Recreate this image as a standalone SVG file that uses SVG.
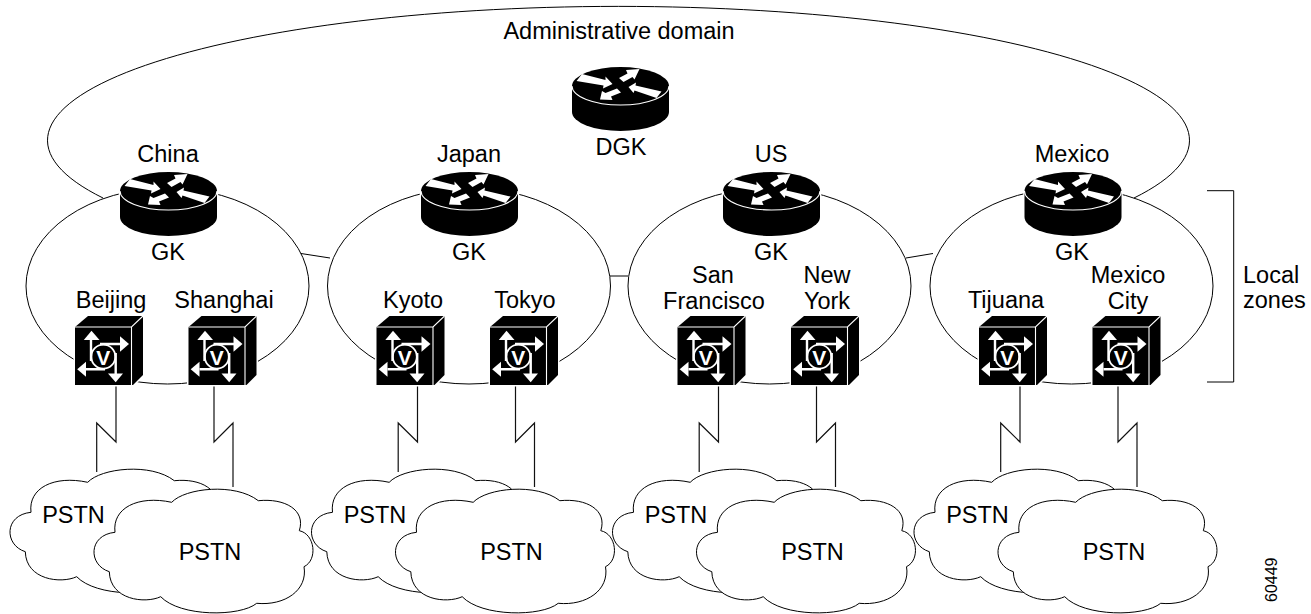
<svg xmlns="http://www.w3.org/2000/svg" width="1311" height="614" viewBox="0 0 1311 614">
<style>
text{font-family:"Liberation Sans",Arial,sans-serif;font-size:23.5px;fill:#000;text-anchor:middle}
.ln{fill:none;stroke:#000;stroke-width:1}
.ser{fill:none;stroke:#111;stroke-width:1.2;stroke-linejoin:miter}
.cl{fill:#fff;stroke:#000;stroke-width:1}
.w{fill:#fff;stroke:none}
.ws{fill:none;stroke:#fff;stroke-width:2.4}
.thin{fill:none;stroke:#fff;stroke-width:1.1}
text.v{fill:#fff;font-weight:bold;font-size:21px}
text.id{font-size:16px}
text.l{text-anchor:start}
</style>
<defs>
<g id="router">
<path d="M-48.5 0A48.5 19 0 0 1 48.5 0V26A48.5 19 0 0 1 -48.5 26Z" fill="#000" stroke="#fff" stroke-width="2.5" paint-order="stroke"/>
<path d="M-48.5 0A48.5 19 0 0 0 48.5 0" class="thin"/>
<polygon class="w" points="-38.5,-12 -15,-6 -15,-9.500 -8,-2 -17.500,2.500 -17,-0.500 -44,-5"/>
<polygon class="w" points="-1.500,-8 7,-12.500 5.500,-16 19,-17 14,-6.500 12,-9 3,-4"/>
<polygon class="w" points="8,1 15.500,-3.500 15,-0.500 41,5.500 36,12 14,4.500 13,7"/>
<polygon class="w" points="-20.500,13.500 -18.500,5 -15,7 -3.500,2.500 0.500,6.500 -9.500,10.500 -8,14"/>
</g>
<g id="switch">
<polygon points="0,0 13,-11 68,-11 68,48 58,58 0,58" fill="#000" stroke="#fff" stroke-width="3" paint-order="stroke"/>
<path d="M0 0H56.5L68 -11M56.5 0V58" class="thin"/>
<circle cx="28.3" cy="29.7" r="12" class="ws" style="stroke-width:1.8"/>
<path d="M16 13V34M25 17H46M11 42.3H30M40.7 26V47" class="ws"/>
<polygon class="w" points="16.5,3.700 8.800,13 24.500,13"/>
<polygon class="w" points="54,17 45,9.200 45,24.800"/>
<polygon class="w" points="2.200,42.300 11,34.800 11,49.800"/>
<polygon class="w" points="40.700,55.200 33,46.500 48,46.500"/>
<text class="v" x="28.300" y="37.500">V</text>
</g>
<path id="cloud" class="cl" d="M171.700 502.300C185 488 235 482.500 258.300 500.700C285 498 306 510 299.300 530.700C315 534 318 560 304 566.700C308 590 285 606 256.700 603.300C240 617 180 617 160.700 596.700C145 604 110 600 109.300 571.700C88 565 88 535 115 532.300C112 508 138 495 171.700 502.300Z"/>
<path id="serial" class="ser" d="M116 385V442L96.700 423V472M214 385V442L233 423V487"/>
</defs>

<g id="connectors">
<path id="domain-boundary" class="ln" d="M103 198A571 134 0 1 1 1134 198"/>
<path class="ln" d="M301 253.500L330 258M610 276H628M906 258L933 253.500"/>
<path class="ln" d="M1207 190.700H1233.700V382H1207"/>
<use href="#serial"/>
<use href="#serial" x="301.500"/>
<use href="#serial" x="602.500"/>
<use href="#serial" x="904"/>
</g>

<g id="zone-china"><ellipse class="ln" cx="167.500" cy="286" rx="141.500" ry="98"/></g>
<g id="zone-japan"><ellipse class="ln" cx="469" cy="286" rx="141.500" ry="98"/></g>
<g id="zone-us"><ellipse class="ln" cx="769.500" cy="286" rx="141.500" ry="98"/></g>
<g id="zone-mexico"><ellipse class="ln" cx="1071.500" cy="286" rx="141.500" ry="98"/></g>

<g id="title"><text x="619" y="39">Administrative domain</text></g>
<g id="dgk"><use href="#router" x="620.500" y="86"/><text x="621" y="155">DGK</text></g>

<g id="gk-china"><text x="168" y="162">China</text><use href="#router" x="168.500" y="191"/><text x="168" y="260">GK</text></g>
<g id="gk-japan"><text x="469" y="162">Japan</text><use href="#router" x="469.500" y="191"/><text x="469" y="260">GK</text></g>
<g id="gk-us"><text x="771" y="162">US</text><use href="#router" x="771.500" y="191"/><text x="771" y="260">GK</text></g>
<g id="gk-mexico"><text x="1072" y="162">Mexico</text><use href="#router" x="1073" y="191"/><text x="1072" y="260">GK</text></g>

<g id="gw-beijing"><text x="111" y="308">Beijing</text><use href="#switch" x="75" y="327"/></g>
<g id="gw-shanghai"><text x="224" y="308">Shanghai</text><use href="#switch" x="188.500" y="327"/></g>
<g id="gw-kyoto"><text x="413" y="308">Kyoto</text><use href="#switch" x="376.500" y="327"/></g>
<g id="gw-tokyo"><text x="525" y="308">Tokyo</text><use href="#switch" x="490" y="327"/></g>
<g id="gw-san-francisco"><text x="713" y="283">San</text><text x="714" y="309">Francisco</text><use href="#switch" x="677.500" y="327"/></g>
<g id="gw-new-york"><text x="827" y="283">New</text><text x="827" y="309">York</text><use href="#switch" x="791" y="327"/></g>
<g id="gw-tijuana"><text x="1006" y="308">Tijuana</text><use href="#switch" x="979" y="327"/></g>
<g id="gw-mexico-city"><text x="1128" y="283">Mexico</text><text x="1128" y="309">City</text><use href="#switch" x="1092.500" y="327"/></g>

<g id="pstn-china"><use href="#cloud" x="-84" y="-20"/><text x="73.500" y="523">PSTN</text><use href="#cloud"/><text x="210" y="560">PSTN</text></g>
<g id="pstn-japan"><use href="#cloud" x="217.500" y="-20"/><text x="375" y="523">PSTN</text><use href="#cloud" x="301.500"/><text x="511.500" y="560">PSTN</text></g>
<g id="pstn-us"><use href="#cloud" x="518.500" y="-20"/><text x="676" y="523">PSTN</text><use href="#cloud" x="602.500"/><text x="812.500" y="560">PSTN</text></g>
<g id="pstn-mexico"><use href="#cloud" x="820" y="-20"/><text x="977.500" y="523">PSTN</text><use href="#cloud" x="904"/><text x="1114" y="560">PSTN</text></g>

<g id="local-zones"><text class="l" x="1243" y="283">Local</text><text class="l" x="1243" y="308">zones</text></g>
<text class="id l" transform="translate(1277 602) rotate(-90)">60449</text>
</svg>
